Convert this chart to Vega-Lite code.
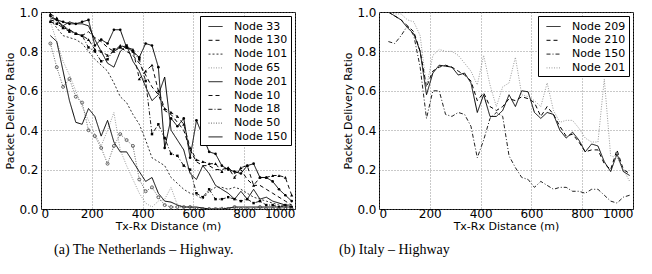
{
"$schema": "https://vega.github.io/schema/vega-lite/v6.json",
"background": "white",
"padding": {"left": 4, "top": 5, "right": 0, "bottom": 5},
"config": {
 "view": {"stroke": "black", "strokeWidth": 1},
 "font": "DejaVu Sans",
 "axis": {"labelFont": "DejaVu Sans", "labelFontSize": 12, "labelColor": "black", "titleFont": "DejaVu Sans", "titleFontSize": 11, "titleFontWeight": "normal", "titleColor": "black", "domain": false, "ticks": false, "gridColor": "#777", "gridDash": [1, 2], "gridWidth": 0.8, "gridOpacity": 1},
 "axisX": {"labelPadding": -1, "titlePadding": 1},
 "axisY": {"labelPadding": 3, "titlePadding": 3},
 "legend": {"orient": "top-right", "offset": 4, "padding": 3, "strokeColor": "black", "fillColor": "white", "cornerRadius": 0, "labelFont": "DejaVu Sans", "labelFontSize": 11, "labelColor": "black", "symbolType": "stroke", "symbolSize": 196, "symbolStrokeWidth": 1, "symbolOffset": 5, "rowPadding": 0.8, "labelOffset": 11, "title": null},
 "title": {"font": "Liberation Serif", "fontSize": 14, "fontWeight": "normal", "color": "black", "orient": "bottom", "anchor": "start", "offset": 12, "frame": "group"}
},
"datasets": {
"a": [
{"n":"Node 33","d":37,"r":0.97},{"n":"Node 33","d":62,"r":0.96},{"n":"Node 33","d":87,"r":0.93},{"n":"Node 33","d":112,"r":0.95},{"n":"Node 33","d":137,"r":0.94},{"n":"Node 33","d":162,"r":0.94},{"n":"Node 33","d":187,"r":0.93},{"n":"Node 33","d":212,"r":0.86},{"n":"Node 33","d":237,"r":0.80},{"n":"Node 33","d":262,"r":0.74},{"n":"Node 33","d":287,"r":0.72},{"n":"Node 33","d":312,"r":0.80},{"n":"Node 33","d":337,"r":0.83},{"n":"Node 33","d":362,"r":0.75},{"n":"Node 33","d":387,"r":0.70},{"n":"Node 33","d":412,"r":0.62},{"n":"Node 33","d":437,"r":0.55},{"n":"Node 33","d":462,"r":0.58},{"n":"Node 33","d":487,"r":0.67},{"n":"Node 33","d":512,"r":0.40},{"n":"Node 33","d":537,"r":0.35},{"n":"Node 33","d":562,"r":0.30},{"n":"Node 33","d":587,"r":0.18},{"n":"Node 33","d":612,"r":0.15},{"n":"Node 33","d":637,"r":0.22},{"n":"Node 33","d":662,"r":0.18},{"n":"Node 33","d":687,"r":0.12},{"n":"Node 33","d":712,"r":0.10},{"n":"Node 33","d":737,"r":0.08},{"n":"Node 33","d":762,"r":0.05},{"n":"Node 33","d":787,"r":0.09},{"n":"Node 33","d":812,"r":0.05},{"n":"Node 33","d":837,"r":0.10},{"n":"Node 33","d":862,"r":0.05},{"n":"Node 33","d":887,"r":0.06},{"n":"Node 33","d":912,"r":0.04},{"n":"Node 33","d":937,"r":0.03},{"n":"Node 33","d":962,"r":0.02},{"n":"Node 33","d":987,"r":0.02},
{"n":"Node 130","d":37,"r":0.96},{"n":"Node 130","d":62,"r":0.95},{"n":"Node 130","d":87,"r":0.93},{"n":"Node 130","d":112,"r":0.91},{"n":"Node 130","d":137,"r":0.89},{"n":"Node 130","d":162,"r":0.88},{"n":"Node 130","d":187,"r":0.90},{"n":"Node 130","d":212,"r":0.87},{"n":"Node 130","d":237,"r":0.85},{"n":"Node 130","d":262,"r":0.82},{"n":"Node 130","d":287,"r":0.80},{"n":"Node 130","d":312,"r":0.82},{"n":"Node 130","d":337,"r":0.80},{"n":"Node 130","d":362,"r":0.78},{"n":"Node 130","d":387,"r":0.74},{"n":"Node 130","d":412,"r":0.68},{"n":"Node 130","d":437,"r":0.62},{"n":"Node 130","d":462,"r":0.58},{"n":"Node 130","d":487,"r":0.50},{"n":"Node 130","d":512,"r":0.48},{"n":"Node 130","d":537,"r":0.44},{"n":"Node 130","d":562,"r":0.40},{"n":"Node 130","d":587,"r":0.30},{"n":"Node 130","d":612,"r":0.24},{"n":"Node 130","d":637,"r":0.22},{"n":"Node 130","d":662,"r":0.22},{"n":"Node 130","d":687,"r":0.20},{"n":"Node 130","d":712,"r":0.20},{"n":"Node 130","d":737,"r":0.21},{"n":"Node 130","d":762,"r":0.18},{"n":"Node 130","d":787,"r":0.20},{"n":"Node 130","d":812,"r":0.15},{"n":"Node 130","d":837,"r":0.12},{"n":"Node 130","d":862,"r":0.12},{"n":"Node 130","d":887,"r":0.10},{"n":"Node 130","d":912,"r":0.08},{"n":"Node 130","d":937,"r":0.06},{"n":"Node 130","d":962,"r":0.04},{"n":"Node 130","d":987,"r":0.02},
{"n":"Node 101","d":37,"r":0.96},{"n":"Node 101","d":62,"r":0.92},{"n":"Node 101","d":87,"r":0.88},{"n":"Node 101","d":112,"r":0.87},{"n":"Node 101","d":137,"r":0.86},{"n":"Node 101","d":162,"r":0.84},{"n":"Node 101","d":187,"r":0.80},{"n":"Node 101","d":212,"r":0.76},{"n":"Node 101","d":237,"r":0.73},{"n":"Node 101","d":262,"r":0.70},{"n":"Node 101","d":287,"r":0.64},{"n":"Node 101","d":312,"r":0.57},{"n":"Node 101","d":337,"r":0.54},{"n":"Node 101","d":362,"r":0.48},{"n":"Node 101","d":387,"r":0.43},{"n":"Node 101","d":412,"r":0.35},{"n":"Node 101","d":437,"r":0.26},{"n":"Node 101","d":462,"r":0.24},{"n":"Node 101","d":487,"r":0.22},{"n":"Node 101","d":512,"r":0.16},{"n":"Node 101","d":537,"r":0.13},{"n":"Node 101","d":562,"r":0.10},{"n":"Node 101","d":587,"r":0.08},{"n":"Node 101","d":612,"r":0.07},{"n":"Node 101","d":637,"r":0.05},{"n":"Node 101","d":662,"r":0.09},{"n":"Node 101","d":687,"r":0.11},{"n":"Node 101","d":712,"r":0.11},{"n":"Node 101","d":737,"r":0.10},{"n":"Node 101","d":762,"r":0.11},{"n":"Node 101","d":787,"r":0.10},{"n":"Node 101","d":812,"r":0.08},{"n":"Node 101","d":837,"r":0.06},{"n":"Node 101","d":862,"r":0.05},{"n":"Node 101","d":887,"r":0.04},{"n":"Node 101","d":912,"r":0.03},{"n":"Node 101","d":937,"r":0.02},{"n":"Node 101","d":962,"r":0.01},{"n":"Node 101","d":987,"r":0.01},
{"n":"Node 65","d":37,"r":0.95},{"n":"Node 65","d":62,"r":0.85},{"n":"Node 65","d":87,"r":0.75},{"n":"Node 65","d":112,"r":0.68},{"n":"Node 65","d":137,"r":0.60},{"n":"Node 65","d":162,"r":0.52},{"n":"Node 65","d":187,"r":0.45},{"n":"Node 65","d":212,"r":0.38},{"n":"Node 65","d":237,"r":0.32},{"n":"Node 65","d":262,"r":0.40},{"n":"Node 65","d":287,"r":0.49},{"n":"Node 65","d":312,"r":0.30},{"n":"Node 65","d":337,"r":0.22},{"n":"Node 65","d":362,"r":0.15},{"n":"Node 65","d":387,"r":0.08},{"n":"Node 65","d":412,"r":0.03},{"n":"Node 65","d":437,"r":0.01},{"n":"Node 65","d":462,"r":0.04},{"n":"Node 65","d":487,"r":0.05},{"n":"Node 65","d":512,"r":0.11},{"n":"Node 65","d":537,"r":0.02},{"n":"Node 65","d":562,"r":0.01},{"n":"Node 65","d":587,"r":0.01},{"n":"Node 65","d":612,"r":0.0},{"n":"Node 65","d":637,"r":0.0},{"n":"Node 65","d":662,"r":0.0},{"n":"Node 65","d":687,"r":0.0},{"n":"Node 65","d":712,"r":0.01},{"n":"Node 65","d":737,"r":0.0},{"n":"Node 65","d":762,"r":0.0},{"n":"Node 65","d":787,"r":0.0},{"n":"Node 65","d":812,"r":0.0},{"n":"Node 65","d":837,"r":0.0},{"n":"Node 65","d":862,"r":0.0},{"n":"Node 65","d":887,"r":0.0},{"n":"Node 65","d":912,"r":0.0},{"n":"Node 65","d":937,"r":0.0},{"n":"Node 65","d":962,"r":0.0},{"n":"Node 65","d":987,"r":0.0},
{"n":"Node 201","d":37,"r":0.98},{"n":"Node 201","d":62,"r":0.96},{"n":"Node 201","d":87,"r":0.95},{"n":"Node 201","d":112,"r":0.94},{"n":"Node 201","d":137,"r":0.94},{"n":"Node 201","d":162,"r":0.95},{"n":"Node 201","d":187,"r":0.96},{"n":"Node 201","d":212,"r":0.83},{"n":"Node 201","d":237,"r":0.86},{"n":"Node 201","d":262,"r":0.84},{"n":"Node 201","d":287,"r":0.91},{"n":"Node 201","d":312,"r":0.91},{"n":"Node 201","d":337,"r":0.82},{"n":"Node 201","d":362,"r":0.80},{"n":"Node 201","d":387,"r":0.77},{"n":"Node 201","d":412,"r":0.84},{"n":"Node 201","d":437,"r":0.83},{"n":"Node 201","d":462,"r":0.72},{"n":"Node 201","d":487,"r":0.31},{"n":"Node 201","d":512,"r":0.46},{"n":"Node 201","d":537,"r":0.42},{"n":"Node 201","d":562,"r":0.46},{"n":"Node 201","d":587,"r":0.26},{"n":"Node 201","d":612,"r":0.45},{"n":"Node 201","d":637,"r":0.37},{"n":"Node 201","d":662,"r":0.29},{"n":"Node 201","d":687,"r":0.28},{"n":"Node 201","d":712,"r":0.22},{"n":"Node 201","d":737,"r":0.20},{"n":"Node 201","d":762,"r":0.19},{"n":"Node 201","d":787,"r":0.18},{"n":"Node 201","d":812,"r":0.22},{"n":"Node 201","d":837,"r":0.23},{"n":"Node 201","d":862,"r":0.16},{"n":"Node 201","d":887,"r":0.16},{"n":"Node 201","d":912,"r":0.14},{"n":"Node 201","d":937,"r":0.10},{"n":"Node 201","d":962,"r":0.07},{"n":"Node 201","d":987,"r":0.04},
{"n":"Node 10","d":37,"r":0.99},{"n":"Node 10","d":62,"r":0.97},{"n":"Node 10","d":87,"r":0.92},{"n":"Node 10","d":112,"r":0.91},{"n":"Node 10","d":137,"r":0.89},{"n":"Node 10","d":162,"r":0.88},{"n":"Node 10","d":187,"r":0.86},{"n":"Node 10","d":212,"r":0.81},{"n":"Node 10","d":237,"r":0.80},{"n":"Node 10","d":262,"r":0.78},{"n":"Node 10","d":287,"r":0.80},{"n":"Node 10","d":312,"r":0.83},{"n":"Node 10","d":337,"r":0.82},{"n":"Node 10","d":362,"r":0.81},{"n":"Node 10","d":387,"r":0.66},{"n":"Node 10","d":412,"r":0.70},{"n":"Node 10","d":437,"r":0.73},{"n":"Node 10","d":462,"r":0.60},{"n":"Node 10","d":487,"r":0.51},{"n":"Node 10","d":512,"r":0.49},{"n":"Node 10","d":537,"r":0.47},{"n":"Node 10","d":562,"r":0.43},{"n":"Node 10","d":587,"r":0.31},{"n":"Node 10","d":612,"r":0.25},{"n":"Node 10","d":637,"r":0.24},{"n":"Node 10","d":662,"r":0.23},{"n":"Node 10","d":687,"r":0.23},{"n":"Node 10","d":712,"r":0.19},{"n":"Node 10","d":737,"r":0.21},{"n":"Node 10","d":762,"r":0.16},{"n":"Node 10","d":787,"r":0.21},{"n":"Node 10","d":812,"r":0.22},{"n":"Node 10","d":837,"r":0.12},{"n":"Node 10","d":862,"r":0.16},{"n":"Node 10","d":887,"r":0.16},{"n":"Node 10","d":912,"r":0.17},{"n":"Node 10","d":937,"r":0.17},{"n":"Node 10","d":962,"r":0.16},{"n":"Node 10","d":987,"r":0.07},
{"n":"Node 18","d":37,"r":0.95},{"n":"Node 18","d":62,"r":0.94},{"n":"Node 18","d":87,"r":0.92},{"n":"Node 18","d":112,"r":0.90},{"n":"Node 18","d":137,"r":0.89},{"n":"Node 18","d":162,"r":0.88},{"n":"Node 18","d":187,"r":0.82},{"n":"Node 18","d":212,"r":0.80},{"n":"Node 18","d":237,"r":0.75},{"n":"Node 18","d":262,"r":0.76},{"n":"Node 18","d":287,"r":0.81},{"n":"Node 18","d":312,"r":0.82},{"n":"Node 18","d":337,"r":0.83},{"n":"Node 18","d":362,"r":0.80},{"n":"Node 18","d":387,"r":0.76},{"n":"Node 18","d":412,"r":0.65},{"n":"Node 18","d":437,"r":0.38},{"n":"Node 18","d":462,"r":0.43},{"n":"Node 18","d":487,"r":0.36},{"n":"Node 18","d":512,"r":0.28},{"n":"Node 18","d":537,"r":0.27},{"n":"Node 18","d":562,"r":0.22},{"n":"Node 18","d":587,"r":0.20},{"n":"Node 18","d":612,"r":0.08},{"n":"Node 18","d":637,"r":0.06},{"n":"Node 18","d":662,"r":0.10},{"n":"Node 18","d":687,"r":0.05},{"n":"Node 18","d":712,"r":0.05},{"n":"Node 18","d":737,"r":0.06},{"n":"Node 18","d":762,"r":0.05},{"n":"Node 18","d":787,"r":0.04},{"n":"Node 18","d":812,"r":0.05},{"n":"Node 18","d":837,"r":0.03},{"n":"Node 18","d":862,"r":0.04},{"n":"Node 18","d":887,"r":0.02},{"n":"Node 18","d":912,"r":0.02},{"n":"Node 18","d":937,"r":0.01},{"n":"Node 18","d":962,"r":0.02},{"n":"Node 18","d":987,"r":0.01},
{"n":"Node 50","d":37,"r":0.84},{"n":"Node 50","d":62,"r":0.72},{"n":"Node 50","d":87,"r":0.62},{"n":"Node 50","d":112,"r":0.66},{"n":"Node 50","d":137,"r":0.57},{"n":"Node 50","d":162,"r":0.54},{"n":"Node 50","d":187,"r":0.40},{"n":"Node 50","d":212,"r":0.37},{"n":"Node 50","d":237,"r":0.31},{"n":"Node 50","d":262,"r":0.23},{"n":"Node 50","d":287,"r":0.32},{"n":"Node 50","d":312,"r":0.38},{"n":"Node 50","d":337,"r":0.35},{"n":"Node 50","d":362,"r":0.32},{"n":"Node 50","d":387,"r":0.15},{"n":"Node 50","d":412,"r":0.09},{"n":"Node 50","d":437,"r":0.11},{"n":"Node 50","d":462,"r":0.06},{"n":"Node 50","d":487,"r":0.02},{"n":"Node 50","d":512,"r":0.01},{"n":"Node 50","d":537,"r":0.01},{"n":"Node 50","d":562,"r":0.01},{"n":"Node 50","d":587,"r":0.01},{"n":"Node 50","d":612,"r":0.0},{"n":"Node 50","d":637,"r":0.0},{"n":"Node 50","d":662,"r":0.0},{"n":"Node 50","d":687,"r":0.0},{"n":"Node 50","d":712,"r":0.0},{"n":"Node 50","d":737,"r":0.0},{"n":"Node 50","d":762,"r":0.01},{"n":"Node 50","d":787,"r":0.0},{"n":"Node 50","d":812,"r":0.0},{"n":"Node 50","d":837,"r":0.0},{"n":"Node 50","d":862,"r":0.01},{"n":"Node 50","d":887,"r":0.0},{"n":"Node 50","d":912,"r":0.0},{"n":"Node 50","d":937,"r":0.0},{"n":"Node 50","d":962,"r":0.0},{"n":"Node 50","d":987,"r":0.0},
{"n":"Node 150","d":37,"r":0.88},{"n":"Node 150","d":62,"r":0.85},{"n":"Node 150","d":87,"r":0.70},{"n":"Node 150","d":112,"r":0.55},{"n":"Node 150","d":137,"r":0.44},{"n":"Node 150","d":162,"r":0.43},{"n":"Node 150","d":187,"r":0.51},{"n":"Node 150","d":212,"r":0.47},{"n":"Node 150","d":237,"r":0.37},{"n":"Node 150","d":262,"r":0.45},{"n":"Node 150","d":287,"r":0.34},{"n":"Node 150","d":312,"r":0.29},{"n":"Node 150","d":337,"r":0.29},{"n":"Node 150","d":362,"r":0.24},{"n":"Node 150","d":387,"r":0.19},{"n":"Node 150","d":412,"r":0.14},{"n":"Node 150","d":437,"r":0.16},{"n":"Node 150","d":462,"r":0.08},{"n":"Node 150","d":487,"r":0.04},{"n":"Node 150","d":512,"r":0.035},{"n":"Node 150","d":537,"r":0.02},{"n":"Node 150","d":562,"r":0.01},{"n":"Node 150","d":587,"r":0.01},{"n":"Node 150","d":612,"r":0.01},{"n":"Node 150","d":637,"r":0.005},{"n":"Node 150","d":662,"r":0.0},{"n":"Node 150","d":687,"r":0.0},{"n":"Node 150","d":712,"r":0.0},{"n":"Node 150","d":737,"r":0.005},{"n":"Node 150","d":762,"r":0.01},{"n":"Node 150","d":787,"r":0.01},{"n":"Node 150","d":812,"r":0.01},{"n":"Node 150","d":837,"r":0.01},{"n":"Node 150","d":862,"r":0.01},{"n":"Node 150","d":887,"r":0.01},{"n":"Node 150","d":912,"r":0.01},{"n":"Node 150","d":937,"r":0.01},{"n":"Node 150","d":962,"r":0.01},{"n":"Node 150","d":987,"r":0.01}
],
"b": [
{"n":"Node 209","d":37,"r":1.0},{"n":"Node 209","d":62,"r":0.98},{"n":"Node 209","d":87,"r":0.96},{"n":"Node 209","d":112,"r":0.92},{"n":"Node 209","d":137,"r":0.89},{"n":"Node 209","d":162,"r":0.80},{"n":"Node 209","d":187,"r":0.58},{"n":"Node 209","d":212,"r":0.69},{"n":"Node 209","d":237,"r":0.73},{"n":"Node 209","d":262,"r":0.725},{"n":"Node 209","d":287,"r":0.72},{"n":"Node 209","d":312,"r":0.68},{"n":"Node 209","d":337,"r":0.69},{"n":"Node 209","d":362,"r":0.64},{"n":"Node 209","d":387,"r":0.49},{"n":"Node 209","d":412,"r":0.58},{"n":"Node 209","d":437,"r":0.47},{"n":"Node 209","d":462,"r":0.47},{"n":"Node 209","d":487,"r":0.50},{"n":"Node 209","d":512,"r":0.58},{"n":"Node 209","d":537,"r":0.52},{"n":"Node 209","d":562,"r":0.60},{"n":"Node 209","d":587,"r":0.595},{"n":"Node 209","d":612,"r":0.49},{"n":"Node 209","d":637,"r":0.46},{"n":"Node 209","d":662,"r":0.49},{"n":"Node 209","d":687,"r":0.48},{"n":"Node 209","d":712,"r":0.40},{"n":"Node 209","d":737,"r":0.36},{"n":"Node 209","d":762,"r":0.39},{"n":"Node 209","d":787,"r":0.35},{"n":"Node 209","d":812,"r":0.29},{"n":"Node 209","d":837,"r":0.33},{"n":"Node 209","d":862,"r":0.32},{"n":"Node 209","d":887,"r":0.24},{"n":"Node 209","d":912,"r":0.19},{"n":"Node 209","d":937,"r":0.28},{"n":"Node 209","d":962,"r":0.19},{"n":"Node 209","d":987,"r":0.17},
{"n":"Node 210","d":37,"r":1.0},{"n":"Node 210","d":62,"r":0.98},{"n":"Node 210","d":87,"r":0.96},{"n":"Node 210","d":112,"r":0.93},{"n":"Node 210","d":137,"r":0.90},{"n":"Node 210","d":162,"r":0.80},{"n":"Node 210","d":187,"r":0.62},{"n":"Node 210","d":212,"r":0.70},{"n":"Node 210","d":237,"r":0.72},{"n":"Node 210","d":262,"r":0.73},{"n":"Node 210","d":287,"r":0.72},{"n":"Node 210","d":312,"r":0.70},{"n":"Node 210","d":337,"r":0.68},{"n":"Node 210","d":362,"r":0.65},{"n":"Node 210","d":387,"r":0.55},{"n":"Node 210","d":412,"r":0.59},{"n":"Node 210","d":437,"r":0.52},{"n":"Node 210","d":462,"r":0.50},{"n":"Node 210","d":487,"r":0.52},{"n":"Node 210","d":512,"r":0.56},{"n":"Node 210","d":537,"r":0.55},{"n":"Node 210","d":562,"r":0.57},{"n":"Node 210","d":587,"r":0.56},{"n":"Node 210","d":612,"r":0.54},{"n":"Node 210","d":637,"r":0.47},{"n":"Node 210","d":662,"r":0.52},{"n":"Node 210","d":687,"r":0.48},{"n":"Node 210","d":712,"r":0.42},{"n":"Node 210","d":737,"r":0.37},{"n":"Node 210","d":762,"r":0.38},{"n":"Node 210","d":787,"r":0.34},{"n":"Node 210","d":812,"r":0.29},{"n":"Node 210","d":837,"r":0.30},{"n":"Node 210","d":862,"r":0.30},{"n":"Node 210","d":887,"r":0.23},{"n":"Node 210","d":912,"r":0.20},{"n":"Node 210","d":937,"r":0.30},{"n":"Node 210","d":962,"r":0.20},{"n":"Node 210","d":987,"r":0.18},
{"n":"Node 150","d":37,"r":0.85},{"n":"Node 150","d":62,"r":0.84},{"n":"Node 150","d":87,"r":0.88},{"n":"Node 150","d":112,"r":0.93},{"n":"Node 150","d":137,"r":0.88},{"n":"Node 150","d":162,"r":0.72},{"n":"Node 150","d":187,"r":0.46},{"n":"Node 150","d":212,"r":0.60},{"n":"Node 150","d":237,"r":0.60},{"n":"Node 150","d":262,"r":0.48},{"n":"Node 150","d":287,"r":0.47},{"n":"Node 150","d":312,"r":0.49},{"n":"Node 150","d":337,"r":0.48},{"n":"Node 150","d":362,"r":0.42},{"n":"Node 150","d":387,"r":0.26},{"n":"Node 150","d":412,"r":0.35},{"n":"Node 150","d":437,"r":0.46},{"n":"Node 150","d":462,"r":0.49},{"n":"Node 150","d":487,"r":0.47},{"n":"Node 150","d":512,"r":0.27},{"n":"Node 150","d":537,"r":0.21},{"n":"Node 150","d":562,"r":0.16},{"n":"Node 150","d":587,"r":0.15},{"n":"Node 150","d":612,"r":0.11},{"n":"Node 150","d":637,"r":0.14},{"n":"Node 150","d":662,"r":0.12},{"n":"Node 150","d":687,"r":0.10},{"n":"Node 150","d":712,"r":0.11},{"n":"Node 150","d":737,"r":0.11},{"n":"Node 150","d":762,"r":0.09},{"n":"Node 150","d":787,"r":0.09},{"n":"Node 150","d":812,"r":0.08},{"n":"Node 150","d":837,"r":0.10},{"n":"Node 150","d":862,"r":0.10},{"n":"Node 150","d":887,"r":0.07},{"n":"Node 150","d":912,"r":0.04},{"n":"Node 150","d":937,"r":0.03},{"n":"Node 150","d":962,"r":0.06},{"n":"Node 150","d":987,"r":0.07},
{"n":"Node 201","d":37,"r":1.0},{"n":"Node 201","d":62,"r":0.99},{"n":"Node 201","d":87,"r":0.99},{"n":"Node 201","d":112,"r":0.96},{"n":"Node 201","d":137,"r":0.95},{"n":"Node 201","d":162,"r":0.88},{"n":"Node 201","d":187,"r":0.62},{"n":"Node 201","d":212,"r":0.78},{"n":"Node 201","d":237,"r":0.81},{"n":"Node 201","d":262,"r":0.80},{"n":"Node 201","d":287,"r":0.80},{"n":"Node 201","d":312,"r":0.78},{"n":"Node 201","d":337,"r":0.74},{"n":"Node 201","d":362,"r":0.70},{"n":"Node 201","d":387,"r":0.63},{"n":"Node 201","d":412,"r":0.78},{"n":"Node 201","d":437,"r":0.63},{"n":"Node 201","d":462,"r":0.52},{"n":"Node 201","d":487,"r":0.62},{"n":"Node 201","d":512,"r":0.64},{"n":"Node 201","d":537,"r":0.77},{"n":"Node 201","d":562,"r":0.58},{"n":"Node 201","d":587,"r":0.57},{"n":"Node 201","d":612,"r":0.55},{"n":"Node 201","d":637,"r":0.52},{"n":"Node 201","d":662,"r":0.64},{"n":"Node 201","d":687,"r":0.50},{"n":"Node 201","d":712,"r":0.44},{"n":"Node 201","d":737,"r":0.45},{"n":"Node 201","d":762,"r":0.45},{"n":"Node 201","d":787,"r":0.41},{"n":"Node 201","d":812,"r":0.36},{"n":"Node 201","d":837,"r":0.34},{"n":"Node 201","d":862,"r":0.34},{"n":"Node 201","d":887,"r":0.66},{"n":"Node 201","d":912,"r":0.27},{"n":"Node 201","d":937,"r":0.26},{"n":"Node 201","d":962,"r":0.20},{"n":"Node 201","d":987,"r":0.14}
]
},
"spacing": 42,
"resolve": {"scale": {"color": "independent", "strokeDash": "independent", "x": "independent", "y": "independent"}, "legend": {"color": "independent", "strokeDash": "independent"}},
"hconcat": [
{
 "width": 254, "height": 197,
 "title": {"text": "(a)  The Netherlands – Highway.", "dx": 13},
 "data": {"name": "a"},
 "encoding": {
  "x": {"field": "d", "type": "quantitative", "scale": {"domain": [0, 1000], "nice": false}, "axis": {"values": [0, 200, 400, 600, 800, 1000], "format": "d", "title": "Tx-Rx Distance (m)"}},
  "y": {"field": "r", "type": "quantitative", "scale": {"domain": [0, 1], "nice": false}, "axis": {"values": [0, 0.2, 0.4, 0.6, 0.8, 1], "format": ".1f", "title": "Packet Delivery Ratio"}}
 },
 "layer": [
  {"mark": {"type": "line", "strokeWidth": 1, "clip": true},
   "encoding": {
    "color": {"field": "n", "type": "nominal", "scale": {"domain": ["Node 33", "Node 130", "Node 101", "Node 65", "Node 201", "Node 10", "Node 18", "Node 50", "Node 150"], "range": ["#000000", "#000000", "#333333", "#999999", "#000000", "#111111", "#222222", "#666666", "#000000"]}, "legend": {"title": null}},
    "strokeDash": {"field": "n", "type": "nominal", "scale": {"domain": ["Node 33", "Node 130", "Node 101", "Node 65", "Node 201", "Node 10", "Node 18", "Node 50", "Node 150"], "range": [[1, 0], [4, 3], [2, 2], [1, 1.5], [1, 0], [4, 3], [4, 2, 1, 2], [1, 1.5], [1, 0]]}, "legend": {"title": null}}
   }},
  {"transform": [{"filter": "datum.n === 'Node 201'"}], "mark": {"type": "point", "shape": "circle", "filled": true, "size": 7, "color": "black", "opacity": 1, "clip": true}},
  {"transform": [{"filter": "datum.n === 'Node 10'"}], "mark": {"type": "point", "shape": "triangle-up", "filled": true, "size": 10, "color": "black", "opacity": 1, "clip": true}},
  {"transform": [{"filter": "datum.n === 'Node 18'"}], "mark": {"type": "point", "shape": "square", "filled": true, "size": 6, "color": "black", "opacity": 1, "clip": true}},
  {"transform": [{"filter": "datum.n === 'Node 50'"}], "mark": {"type": "point", "shape": "circle", "filled": false, "size": 9, "color": "#444444", "strokeWidth": 0.8, "opacity": 1, "clip": true}}
 ]
},
{
 "width": 254, "height": 197,
 "title": {"text": "(b)  Italy – Highway", "dx": -40},
 "data": {"name": "b"},
 "encoding": {
  "x": {"field": "d", "type": "quantitative", "scale": {"domain": [0, 1000], "nice": false}, "axis": {"values": [0, 200, 400, 600, 800, 1000], "format": "d", "title": "Tx-Rx Distance (m)"}},
  "y": {"field": "r", "type": "quantitative", "scale": {"domain": [0, 1], "nice": false}, "axis": {"values": [0, 0.2, 0.4, 0.6, 0.8, 1], "format": ".1f", "title": "Packet Delivery Ratio"}}
 },
 "layer": [
  {"mark": {"type": "line", "strokeWidth": 1, "clip": true},
   "encoding": {
    "color": {"field": "n", "type": "nominal", "scale": {"domain": ["Node 209", "Node 210", "Node 150", "Node 201"], "range": ["#000000", "#000000", "#222222", "#999999"]}, "legend": {"title": null}},
    "strokeDash": {"field": "n", "type": "nominal", "scale": {"domain": ["Node 209", "Node 210", "Node 150", "Node 201"], "range": [[1, 0], [4, 3], [4, 2, 1, 2], [1, 1.5]]}, "legend": {"title": null}}
   }}
 ]
}
]
}
